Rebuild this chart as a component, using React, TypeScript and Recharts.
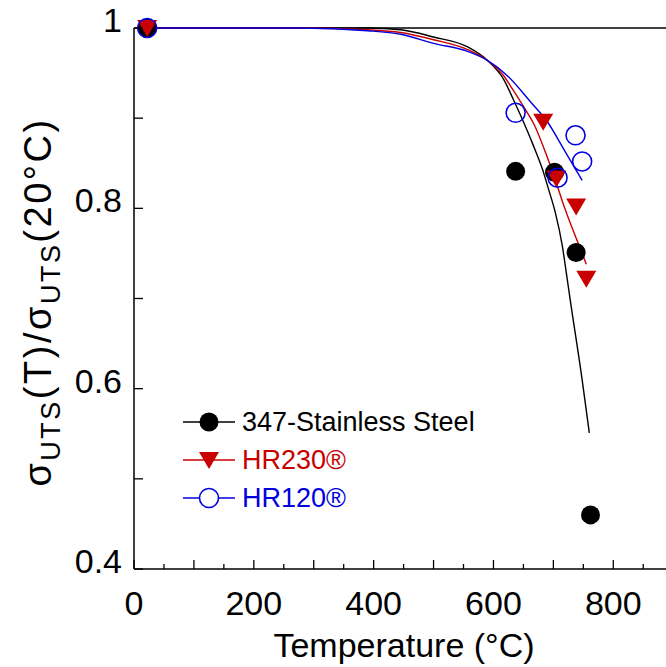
import React from "react";
import {
  ComposedChart,
  Line,
  Scatter,
  XAxis,
  YAxis,
  ReferenceLine,
} from "recharts";

const FONT = "'Liberation Sans', Arial, sans-serif";

const BLACK = "#000000";
const RED = "#C80000";
const BLUE = "#0000E0";

// measured points (temperature °C, normalised UTS)
const steelPoints = [
  { x: 22, y: 1.0 },
  { x: 637, y: 0.841 },
  { x: 702, y: 0.84 },
  { x: 738, y: 0.751 },
  { x: 762, y: 0.46 },
];

const hr230Points = [
  { x: 22, y: 1.0 },
  { x: 683, y: 0.896 },
  { x: 705, y: 0.833 },
  { x: 738, y: 0.802 },
  { x: 755, y: 0.722 },
];

const hr120Points = [
  { x: 22, y: 1.0 },
  { x: 637, y: 0.906 },
  { x: 707, y: 0.834 },
  { x: 737, y: 0.881 },
  { x: 748, y: 0.852 },
];

// fitted curves
const steelFit = [
  { x: 20, y: 1.0 },
  { x: 278, y: 1.0 },
  { x: 390, y: 1.0 },
  { x: 445, y: 0.998 },
  { x: 500, y: 0.99 },
  { x: 557, y: 0.979 },
  { x: 590, y: 0.964 },
  { x: 617, y: 0.943 },
  { x: 633, y: 0.921 },
  { x: 650, y: 0.896 },
  { x: 667, y: 0.869 },
  { x: 682, y: 0.843 },
  { x: 692, y: 0.821 },
  { x: 703, y: 0.796 },
  { x: 715, y: 0.758 },
  { x: 723, y: 0.722 },
  { x: 728, y: 0.699 },
  { x: 748, y: 0.61 },
  { x: 760, y: 0.551 },
];

const hr230Fit = [
  { x: 20, y: 1.0 },
  { x: 278, y: 1.0 },
  { x: 390, y: 0.998 },
  { x: 445, y: 0.995 },
  { x: 500, y: 0.987 },
  { x: 557, y: 0.976 },
  { x: 590, y: 0.964 },
  { x: 617, y: 0.947 },
  { x: 633, y: 0.931 },
  { x: 650, y: 0.913 },
  { x: 670, y: 0.89 },
  { x: 688, y: 0.86 },
  { x: 703, y: 0.832 },
  { x: 718, y: 0.802 },
  { x: 735, y: 0.772 },
  { x: 755, y: 0.738 },
];

const hr120Fit = [
  { x: 20, y: 1.0 },
  { x: 278, y: 1.0 },
  { x: 390, y: 0.997 },
  { x: 445, y: 0.993 },
  { x: 500, y: 0.983 },
  { x: 557, y: 0.974 },
  { x: 590, y: 0.964 },
  { x: 625, y: 0.946 },
  { x: 662, y: 0.918 },
  { x: 690, y: 0.896 },
  { x: 717, y: 0.866 },
  { x: 732, y: 0.849 },
  { x: 748, y: 0.831 },
];

const xTicks = [0, 50, 100, 150, 200, 250, 300, 350, 400, 450, 500, 550, 600, 650, 700, 750, 800, 850];
const xLabels = [0, 200, 400, 600, 800];
const yTicks = [0.4, 0.5, 0.6, 0.7, 0.8, 0.9, 1.0];
const yLabels = ["0.4", "0.6", "0.8", "1"];

const legendItems = [
  { name: "347-Stainless Steel", color: BLACK, marker: "dot" },
  { name: "HR230®", color: RED, marker: "tri" },
  { name: "HR120®", color: BLUE, marker: "ring" },
];

const Dot = ({ cx, cy }: any) => <circle cx={cx} cy={cy} r={9.5} fill={BLACK} />;

const Tri = ({ cx, cy }: any) => (
  <polygon
    points={`${cx - 10},${cy - 8} ${cx + 10},${cy - 8} ${cx},${cy + 9}`}
    fill={RED}
  />
);

const Ring = ({ cx, cy }: any) => (
  <circle cx={cx} cy={cy} r={9.5} fill="none" stroke={BLUE} strokeWidth={1.6} />
);

const XTick = ({ x, y, payload }: any) => {
  const v = payload.value;
  const major = v % 100 === 0;
  return (
    <g>
      <line x1={x} y1={y} x2={x} y2={y - (major ? 9 : 5)} stroke={BLACK} strokeWidth={1.3} />
      {xLabels.includes(v) && (
        <text x={x} y={y + 46} textAnchor="middle" fontSize={34} fontFamily={FONT} fill={BLACK}>
          {v}
        </text>
      )}
    </g>
  );
};

const YTick = ({ x, y, payload }: any) => {
  const v = payload.value;
  const label = yLabels.find((l) => Math.abs(parseFloat(l) - v) < 1e-6);
  return (
    <g>
      <line x1={x} y1={y} x2={x + 9} y2={y} stroke={BLACK} strokeWidth={1.3} />
      {label && (
        <text x={x - 12} y={y + 4} textAnchor="end" fontSize={34} fontFamily={FONT} fill={BLACK}>
          {label}
        </text>
      )}
    </g>
  );
};

const YTitle = () => (
  <text
    transform="translate(51, 302) rotate(-90)"
    textAnchor="middle"
    fontSize={38}
    fontFamily={FONT}
    fill={BLACK}
    letterSpacing={2.5}
  >
    σ<tspan fontSize={27} dy={9}>UTS</tspan>
    <tspan dy={-9}>(T)/σ</tspan>
    <tspan fontSize={27} dy={9}>UTS</tspan>
    <tspan dy={-9}>(20°C)</tspan>
  </text>
);

const XTitle = () => (
  <text x={404} y={657} textAnchor="middle" fontSize={34} fontFamily={FONT} fill={BLACK}>
    Temperature (°C)
  </text>
);

function LegendMarker({ marker, color }: { marker: string; color: string }) {
  return (
    <svg width={52} height={38} style={{ display: "block" }}>
      <line x1={0} y1={19} x2={52} y2={19} stroke={color} strokeWidth={1.3} />
      {marker === "dot" && <circle cx={26} cy={19} r={9.5} fill={color} />}
      {marker === "tri" && <polygon points="16,11 36,11 26,28" fill={color} />}
      {marker === "ring" && (
        <circle cx={26} cy={19} r={9.5} fill="white" stroke={color} strokeWidth={1.6} />
      )}
    </svg>
  );
}

export default function App() {
  return (
    <div style={{ position: "absolute", left: 0, top: 0, width: 666, height: 667, background: "#fff" }}>
      <ComposedChart
        width={666}
        height={667}
        margin={{ top: 28, right: 0, bottom: 0, left: 0 }}
      >
        <XAxis
          type="number"
          dataKey="x"
          domain={[0, 888]}
          ticks={xTicks}
          interval={0}
          tickSize={0}
          tickMargin={0}
          tick={<XTick />}
          height={98}
          stroke={BLACK}
          strokeWidth={1.5}
          allowDataOverflow
          label={<XTitle />}
        />
        <YAxis
          type="number"
          dataKey="y"
          domain={[0.4, 1.0]}
          ticks={yTicks}
          interval={0}
          tickSize={0}
          tickMargin={0}
          tick={<YTick />}
          width={134}
          stroke={BLACK}
          strokeWidth={1.5}
          label={<YTitle />}
        />
        <ReferenceLine y={1} stroke={BLACK} strokeWidth={1.5} />
        <Line data={steelFit} dataKey="y" type="monotone" stroke={BLACK} strokeWidth={1.4} dot={false} isAnimationActive={false} />
        <Line data={hr230Fit} dataKey="y" type="monotone" stroke={RED} strokeWidth={1.4} dot={false} isAnimationActive={false} />
        <Line data={hr120Fit} dataKey="y" type="monotone" stroke={BLUE} strokeWidth={1.4} dot={false} isAnimationActive={false} />
        <Scatter data={steelPoints} dataKey="y" shape={<Dot />} isAnimationActive={false} />
        <Scatter data={hr230Points} dataKey="y" shape={<Tri />} isAnimationActive={false} />
        <Scatter data={hr120Points} dataKey="y" shape={<Ring />} isAnimationActive={false} />
      </ComposedChart>
      <div style={{ position: "absolute", left: 183, top: 403, fontFamily: FONT }}>
        {legendItems.map((it) => (
          <div key={it.name} style={{ display: "flex", alignItems: "center", height: 38 }}>
            <LegendMarker marker={it.marker} color={it.color} />
            <span style={{ marginLeft: 7, fontSize: 27, color: it.color, lineHeight: "38px" }}>{it.name}</span>
          </div>
        ))}
      </div>
    </div>
  );
}
